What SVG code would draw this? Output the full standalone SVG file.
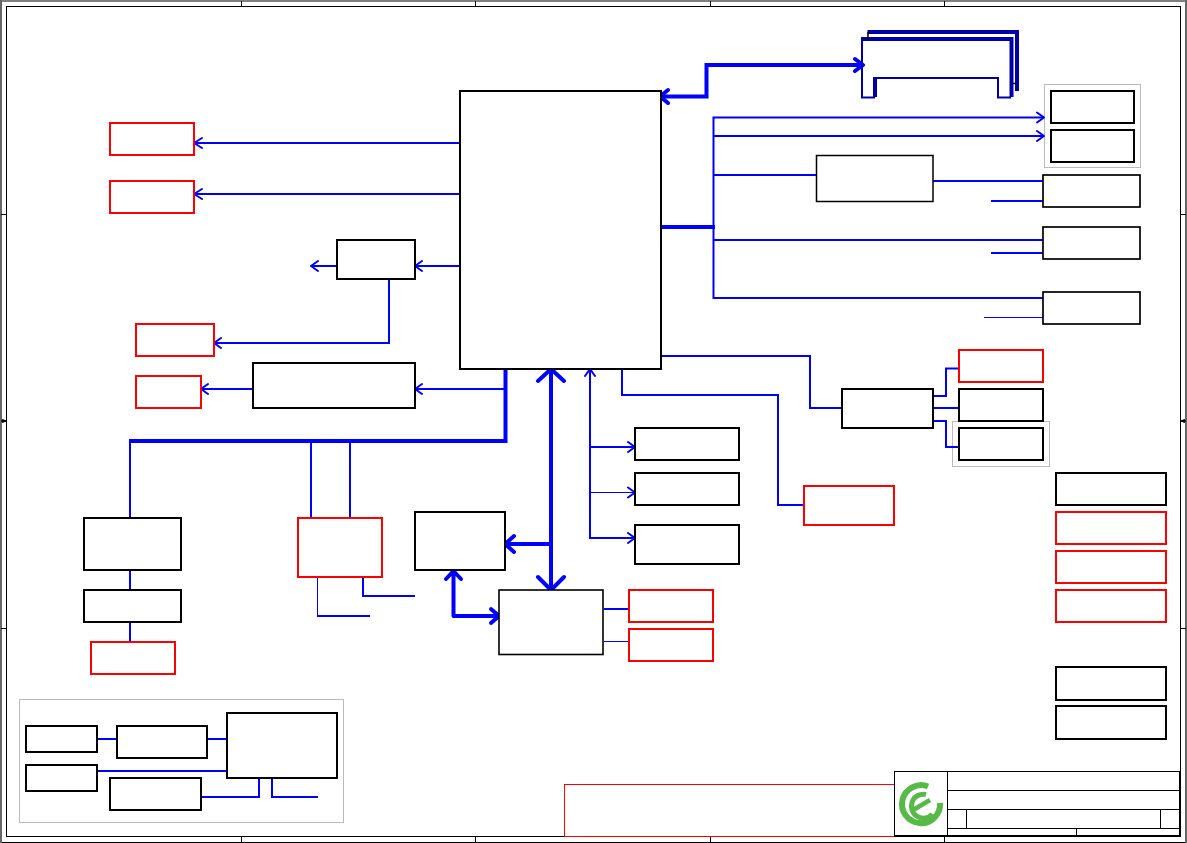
<svg xmlns="http://www.w3.org/2000/svg" width="1187" height="843" viewBox="0 0 1187 843">
<defs>
<style>
.k{fill:#fff;stroke:#000;stroke-width:2}
.r{fill:#fff;stroke:#f00;stroke-width:2}
.t{fill:none;stroke:#000;stroke-width:1}
.g{fill:none;stroke:#bbb;stroke-width:1}
.b{fill:none;stroke:#00f;stroke-width:2;stroke-linejoin:miter}
.b1{fill:none;stroke:#00f;stroke-width:1}
.B{fill:none;stroke:#00f;stroke-width:4}
.a{fill:none;stroke:#00f;stroke-width:2;stroke-linecap:round;stroke-linejoin:round}
.A{fill:none;stroke:#00f;stroke-width:4;stroke-linecap:round;stroke-linejoin:round}
.D{fill:none;stroke:#0000a8;stroke-linejoin:miter}
</style>
</defs>
<rect width="1187" height="843" fill="#fff"/>
<g id="frame">
<path d="M0 1H1187M0 842.500H1187" stroke="#000" stroke-width="1" fill="none"/>
<path d="M1 0V843M1186 0V843" stroke="#666" stroke-width="2" fill="none"/>
<rect x="6.500" y="6.500" width="1174" height="830" class="t"/>
<path d="M241.500 1V6M475.500 1V6M710.500 1V6M944.500 1V6M241.500 837V842M475.500 837V842M710.500 837V842M944.500 837V842M1 214.500H6M1 628.500H6M1181 214.500H1186M1181 628.500H1186M1 421H6M1181 421H1186" class="t"/>
<path d="M6 421L2.500 419.500V422.500ZM1181 421L1184.500 419.500V422.500Z" fill="#000" stroke="#000" stroke-width="1"/>
</g>
<g id="group-boxes">
<rect x="1044.500" y="84.500" width="96" height="83" class="g"/>
<rect x="952.500" y="421.500" width="97" height="45" class="g"/>
<rect x="19.500" y="699.500" width="324" height="123" class="g"/>
</g>
<g id="connectors">
<path class="b" d="M460 143H194M460 194H194M460 266H415M337 266H311M389 279V343H214M505 389H415M253 389H201"/>
<path class="a" d="M202 138L194 143L202 148M202 189L194 194L202 199M422 261L415 266L422 271M318 261L311 266L318 271M221 338L214 343L221 348M422 384L415 389L422 394M208 384L201 389L208 394"/>
<path class="B" d="M505.500 369V441H129"/>
<path class="b" d="M130 441V518M130 570V590M130 623V642M311 441V518M350 441V518M363 577V596H415"/>
<path class="b1" d="M317.500 577V616"/>
<path class="b" d="M317 616H370"/>
<path class="b" d="M713.500 227V117.500H1044M713.500 136H1044M713.500 175H817M933 181H1043M991 201H1043M713.500 227V298H1043M713.500 240H1043M991 253H1043"/>
<path class="b1" d="M984 317.500H1043"/>
<path class="a" d="M1037 112.500L1044 117.500L1037 122.500M1037 131L1044 136L1037 141"/>
<path class="B" d="M660 227H715"/>
<path class="b" d="M661 356H810V408H842M622 369V395H778V505H804M934 396H946V368.500H959M934 408H959M934 421H946V447H959"/>
<path class="b" d="M590 369V538H635"/>
<path class="b" d="M590 447H635"/>
<path class="b1" d="M590 492.500H635"/>
<path class="a" d="M585 376L590 369L595 376M628 442L635 447L628 452M628 487.500L635 492.500L628 497.500M628 533L635 538L628 543"/>
<path class="B" d="M551 369V590M551 544H505"/>
<path class="A" d="M538 381L551 369L564 381M538 577L551 590L564 577M514 536L505 544L514 552"/>
<path class="A" d="M453.500 571V616H499M446 579L453.500 571L461 579M491 609L499 616L491 623"/>
<path class="b" d="M604 609H629"/>
<path class="b1" d="M604 641.500H629"/>
<path class="B" d="M661 96.500H706.500V65H862"/>
<path class="A" d="M668 90L660 96.500L668 103M855 59L863 65L855 71"/>
<g id="bus-loop">
<path class="D" stroke-width="2" d="M862 40V97.500H875M875 78H998V97.500H1011"/>
<path class="D" stroke-width="4" d="M861 39H1011.500V97M875 77V97"/>
<path class="D" stroke-width="4" d="M867.500 32H1017V91"/>
<path d="M868 32V40M1011 83.500H1016" stroke="#000" stroke-width="1.500" fill="none"/>
</g>
<path class="b" d="M97 739H117M207 739H227M97 771H227M201 797H259V778M272 778V797H318"/>
</g>
<g id="cpu"><rect x="460" y="91" width="201" height="278" class="k"/></g>
<g id="n1"><rect x="110" y="123" width="84" height="32" class="r"/></g>
<g id="n2"><rect x="110" y="181" width="84" height="32" class="r"/></g>
<g id="n3"><rect x="337" y="240" width="78" height="39" class="k"/></g>
<g id="n4"><rect x="136" y="324" width="78" height="32" class="r"/></g>
<g id="n5"><rect x="136" y="376" width="65" height="32" class="r"/></g>
<g id="n6"><rect x="253" y="363" width="162" height="45" class="k"/></g>
<g id="n7"><rect x="84" y="518" width="97" height="52" class="k"/></g>
<g id="n8"><rect x="84" y="590" width="97" height="32" class="k"/></g>
<g id="n9"><rect x="91" y="642" width="84" height="32" class="r"/></g>
<g id="n10"><rect x="298" y="518" width="84" height="59" class="r"/></g>
<g id="n11"><rect x="415" y="512" width="90" height="58" class="k"/></g>
<g id="n12"><rect x="499" y="590" width="104" height="64.500" fill="#fff" stroke="#000" stroke-width="1.600"/></g>
<g id="n13"><rect x="629" y="590" width="84" height="32" class="r"/></g>
<g id="n14"><rect x="629" y="629" width="84" height="32" class="r"/></g>
<g id="n15"><rect x="635" y="428" width="104" height="32" class="k"/></g>
<g id="n16"><rect x="635" y="473" width="104" height="32" class="k"/></g>
<g id="n17"><rect x="635" y="525" width="104" height="39" class="k"/></g>
<g id="n18"><rect x="804" y="486" width="90" height="39" class="r"/></g>
<g id="n19"><rect x="842" y="389" width="91" height="39" class="k"/></g>
<g id="n20"><rect x="959" y="350" width="84" height="32" class="r"/></g>
<g id="n21"><rect x="959" y="389" width="84" height="32" class="k"/></g>
<g id="n22"><rect x="959" y="428" width="84" height="32" class="k"/></g>
<g id="n23"><rect x="816.500" y="155.500" width="116.500" height="46" fill="#fff" stroke="#000" stroke-width="1.500"/></g>
<g id="n24"><rect x="1051" y="91" width="83" height="32" class="k"/></g>
<g id="n25"><rect x="1051" y="130" width="83" height="32" class="k"/></g>
<g id="n26"><rect x="1043" y="175" width="97" height="32" fill="#fff" stroke="#000" stroke-width="1.700"/></g>
<g id="n27"><rect x="1043" y="227" width="97" height="32" fill="#fff" stroke="#000" stroke-width="1.700"/></g>
<g id="n28"><rect x="1043" y="292" width="97" height="32" fill="#fff" stroke="#000" stroke-width="1.700"/></g>
<g id="n29"><rect x="1056" y="473" width="110" height="32" class="k"/></g>
<g id="n30"><rect x="1056" y="512" width="110" height="32" class="r"/></g>
<g id="n31"><rect x="1056" y="551" width="110" height="32" class="r"/></g>
<g id="n32"><rect x="1056" y="590" width="110" height="32" class="r"/></g>
<g id="n33"><rect x="1056" y="667" width="110" height="33" class="k"/></g>
<g id="n34"><rect x="1056" y="706" width="110" height="33" class="k"/></g>
<g id="n35"><rect x="26" y="726" width="71" height="26" class="k"/></g>
<g id="n36"><rect x="117" y="726" width="90" height="32" class="k"/></g>
<g id="n37"><rect x="26" y="765" width="71" height="26" class="k"/></g>
<g id="n38"><rect x="110" y="778" width="91" height="32" class="k"/></g>
<g id="n39"><rect x="227" y="713" width="110" height="65" class="k"/></g>
<g id="note"><rect x="564.500" y="784.500" width="330" height="52" fill="#fff" stroke="#f00" stroke-width="1"/></g>
<g id="title-block">
<rect x="894.500" y="771.500" width="285" height="64" fill="#fff" stroke="#000" stroke-width="1"/>
<path class="t" d="M947.500 771.500V835.500M947.500 790.500H1180M947.500 809.500H1180M947.500 828.500H1180M966.500 809.500V828.500M1160.500 809.500V828.500M1076.500 828.500V836"/>
<path class="t" d="M894 836.500H1180"/>
<path d="M944.500 836.500V842" class="t"/>
<g fill="none" stroke="#57b947">
<path d="M928 786.500A19 19 0 1 0 940 803" stroke-width="6"/>
<path d="M926 794.500A12 12 0 1 0 932.500 814" stroke-width="5"/>
<path d="M914 809.500L930 800" stroke-width="4.500"/>
</g>
</g>
</svg>
